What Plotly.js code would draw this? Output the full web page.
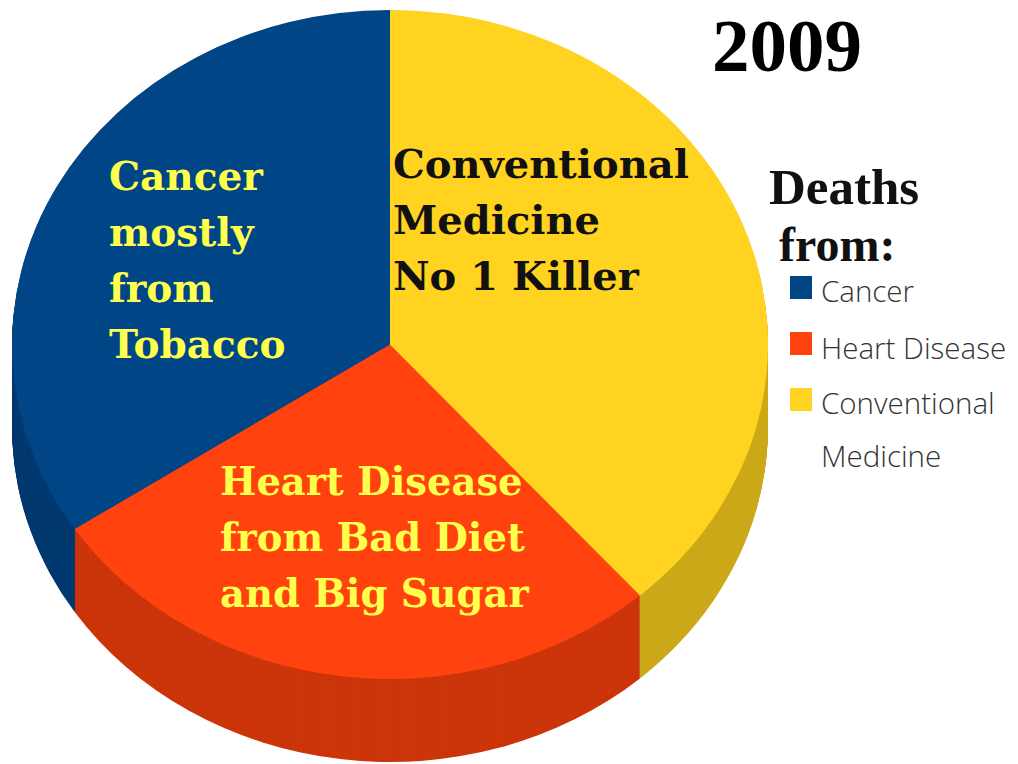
<!DOCTYPE html>
<html><head><meta charset="utf-8">
<script src="https://cdn.plot.ly/plotly-3.0.1.min.js"></script>
<style>html,body{margin:0;padding:0;background:#fff;overflow:hidden}</style>
</head><body><div id="chart" style="width:1018px;height:764px"></div>
<script>
const categories = ['Cancer','Heart Disease','Conventional Medicine'];
const shareOfDeaths = [34.3, 27.2, 38.5];
const topColors = ['#004586','#ff420e','#ffd320'];
const wallColors = ['#003a70','#cc350b','#cca91a'];
const yearTitle = '2009';
const legendTitleLines = ['Deaths','from:'];
const legendLines = ['Cancer','Heart Disease','Conventional','Medicine'];
const cancerNote = ['Cancer','mostly','from','Tobacco'];
const medicineNote = ['Conventional','Medicine','No 1 Killer'];
const heartNote = ['Heart Disease','from Bad Diet','and Big Sugar'];

const W = 1018, H = 764;
const cx = 390, cy = 344.5, rx = 378, ry = 334.5, depth = 83, layers = 83;
const serif = 'DejaVu Serif, serif';
const px = v => v / W, py = v => 1 - v / H;
const total = shareOfDeaths.reduce((a,b) => a + b, 0);

function pieTrace(colors) {
  return {
    type:'pie', labels:categories, values:shareOfDeaths, sort:false,
    direction:'counterclockwise', rotation:-360 * shareOfDeaths[0] / total, textinfo:'none', hoverinfo:'label+percent',
    marker:{colors:colors, line:{width:0}},
    domain:{x:[(cx-rx)/W,(cx+rx)/W], y:[(H/2-rx)/H,(H/2+rx)/H]}, showlegend:false
  };
}
const offsets = [];
for (let i = layers; i > 0; i--) offsets.push(depth * i / layers);
offsets.push(0);
const traces = offsets.map(o => pieTrace(o === 0 ? topColors : wallColors));

function lineNotes(lines, x, y0, step, size, color, family, weight) {
  return lines.map((t,i) => ({
    text:t, xref:'paper', yref:'paper', x:px(x), y:py(y0+i*step), xanchor:'left', yanchor:'middle',
    showarrow:false, borderpad:0, font:{family:family, size:size, color:color, weight:weight}
  }));
}
const annotations = [
  ...lineNotes([yearTitle], 711, 46, 0, 75, '#000', 'Liberation Serif, serif', 700),
  ...lineNotes(cancerNote, 108, 176, 56, 39, '#ffff4d', serif, 700),
  ...lineNotes(medicineNote, 392, 163, 56, 40, '#111', serif, 700),
  ...lineNotes(heartNote, 219, 481, 56, 38.5, '#ffff4d', serif, 700),
  ...lineNotes([legendTitleLines[0]], 768, 187, 0, 51, '#111', 'Liberation Serif, serif', 700),
  ...lineNotes([legendTitleLines[1]], 778, 244, 0, 48, '#111', 'Liberation Serif, serif', 700),
  ...legendLines.map((t,i) => lineNotes([t], 820, 290+[0,57,112,165][i], 0, 29.5, '#333', 'Open Sans, sans-serif', 300)[0])
];
const shapes = topColors.map((c,i) => {
  const top = 276 + i*56;
  return {type:'rect', xref:'paper', yref:'paper', x0:px(790), x1:px(812), y0:py(top), y1:py(top+23),
          fillcolor:c, line:{width:0}, layer:'above'};
});

Plotly.newPlot('chart', traces, {
  width:W, height:H, margin:{l:0,r:0,t:0,b:0}, paper_bgcolor:'#fff', plot_bgcolor:'#fff',
  showlegend:false, annotations, shapes
}, {displayModeBar:false}).then(gd => {
  // Plotly pies are always round: squash each drawn pie into the tilted ellipse and drop it to its depth.
  const k = ry / rx;
  gd.querySelectorAll('.pielayer .trace').forEach((g,i) => {
    g.setAttribute('transform', `translate(0 ${cy + offsets[i]}) scale(1 ${k}) translate(0 ${-H/2})`);
  });
});
</script></body></html>
